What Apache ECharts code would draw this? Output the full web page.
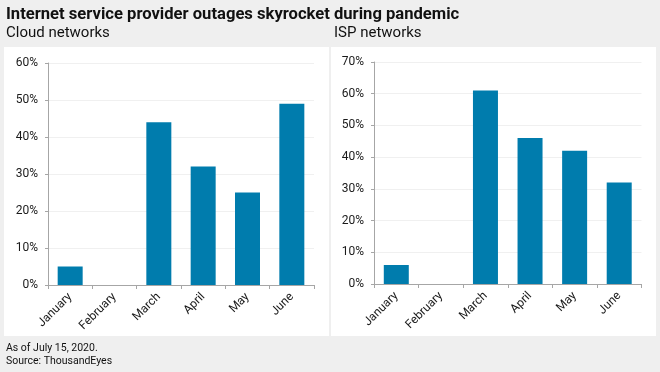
<!DOCTYPE html>
<html><head><meta charset="utf-8">
<style>html,body{margin:0;padding:0;background:#efefef;}#c{width:660px;height:372px;}</style>
<script src="https://cdn.jsdelivr.net/npm/echarts@6/dist/echarts.min.js"></script>
</head><body><div id="c"></div>
<script>
const months = ['January','February','March','April','May','June'];
const cloudValues = [5, 0, 44, 32, 25, 49];
const ispValues = [6, 0, 61, 46, 42, 32];
const cloudTicks = {min: 0, max: 60, interval: 10};
const ispTicks = {min: 0, max: 70, interval: 10};

const FONT = 'Roboto, "Liberation Sans", sans-serif';
const TXT = '#1a1a1a';
const BAR = '#007cad';

function xAxis(gi){
  return {type:'category', gridIndex:gi, data:months,
    axisLine:{lineStyle:{color:'#a6a6a6'}},
    axisTick:{show:true, length:4, lineStyle:{color:'#a6a6a6'}},
    axisLabel:{rotate:45, color:TXT, fontFamily:FONT, fontSize:12, margin:10, interval:0}};
}
function yAxis(gi, t){
  return {type:'value', gridIndex:gi, min:t.min, max:t.max, interval:t.interval,
    axisLine:{show:true, lineStyle:{color:'#a6a6a6'}},
    axisTick:{show:true, length:3, lineStyle:{color:'#a6a6a6'}},
    splitLine:{lineStyle:{color:'#f0f0f0'}},
    axisLabel:{formatter:'{value}%', color:TXT, fontFamily:FONT, fontSize:12, margin:10}};
}

const chart = echarts.init(document.getElementById('c'), null, {renderer:'canvas'});
chart.setOption({
  backgroundColor:'#efefef',
  animation:false,
  graphic:[
    {type:'rect', shape:{x:4,y:47,width:325,height:289}, style:{fill:'#fff'}, z:-10},
    {type:'rect', shape:{x:331,y:47,width:325,height:289}, style:{fill:'#fff'}, z:-10},
    {type:'text', left:6, top:6, style:{text:'Internet service provider outages skyrocket during pandemic', fill:'#111', font:'bold 16.6px '+FONT}},
    {type:'text', left:6, top:26, style:{text:'Cloud networks', fill:'#111', font:'15px '+FONT}},
    {type:'text', left:334, top:26, style:{text:'ISP networks', fill:'#111', font:'15px '+FONT}},
    {type:'text', left:6, top:342, style:{text:'As of July 15, 2020.\nSource: ThousandEyes', fill:'#111', font:'10.5px '+FONT, lineHeight:13}}
  ],
  grid:[
    {left:48, right:346, top:63, bottom:87},
    {left:374, right:18.5, top:62, bottom:88}
  ],
  xAxis:[xAxis(0), xAxis(1)],
  yAxis:[yAxis(0, cloudTicks), yAxis(1, ispTicks)],
  series:[
    {type:'bar', xAxisIndex:0, yAxisIndex:0, data:cloudValues, barWidth:25, itemStyle:{color:BAR}},
    {type:'bar', xAxisIndex:1, yAxisIndex:1, data:ispValues, barWidth:25, itemStyle:{color:BAR}}
  ]
});
</script></body></html>
